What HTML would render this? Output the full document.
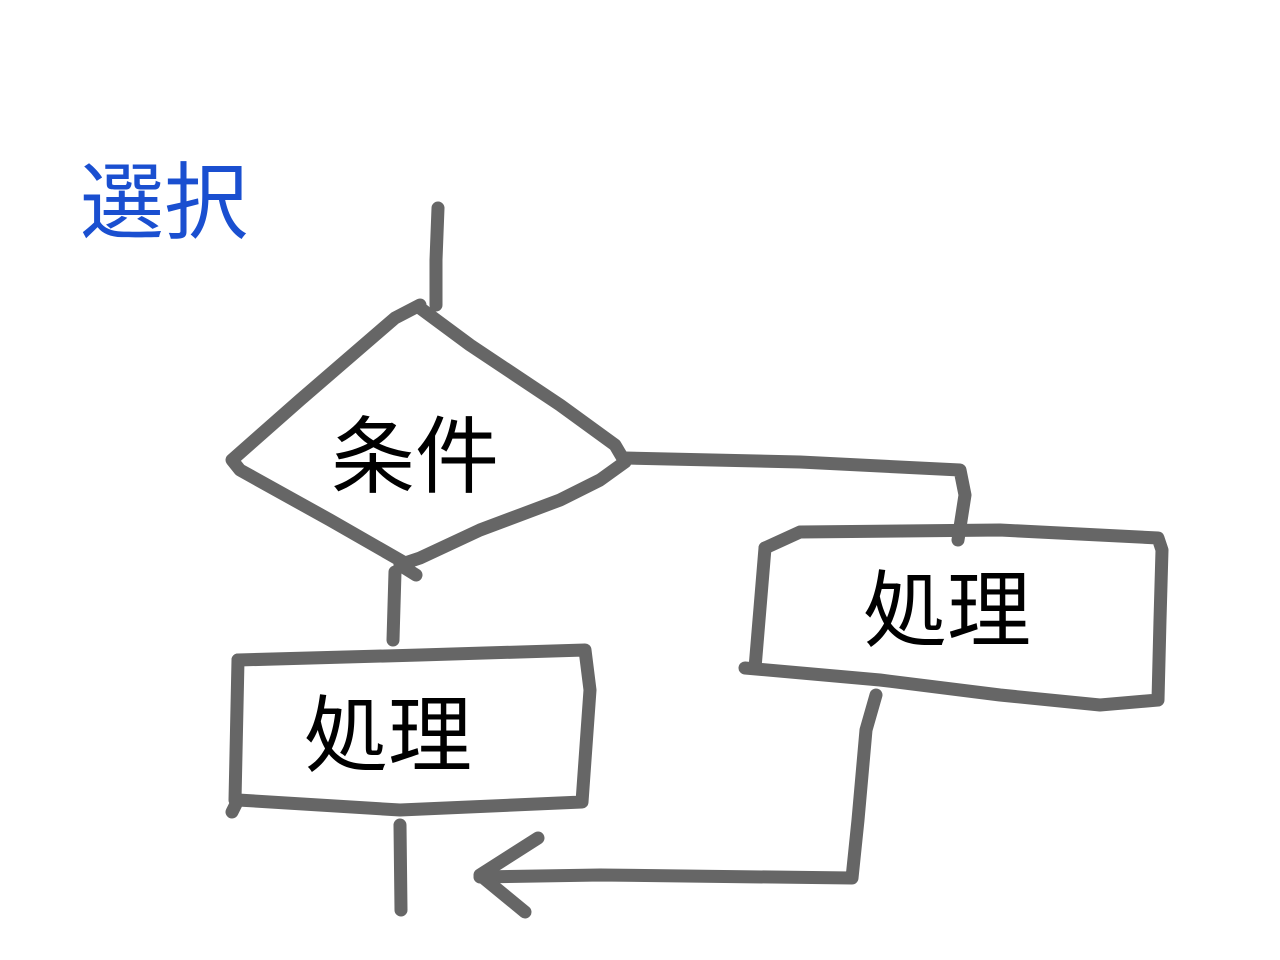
<!DOCTYPE html>
<html><head><meta charset="utf-8"><style>
html,body{margin:0;padding:0;background:#fff;}
body{width:1280px;height:960px;position:relative;overflow:hidden;}
.t{position:absolute;font-family:"Liberation Sans","Noto Sans CJK JP",sans-serif;line-height:1;white-space:nowrap;}
</style></head><body>
<svg width="1280" height="960" style="position:absolute;left:0;top:0" fill="none" stroke="#666" stroke-width="13" stroke-linecap="round" stroke-linejoin="round">
<polyline points="438,208 436,260 436,305"/>
<polyline points="420,308 470,345 560,405 615,445 625,462 600,480 560,500 480,530 420,558 405,563 330,520 240,470 232,460 300,400 395,318 420,305"/>
<polyline points="400,565 416,575"/>
<polyline points="395,572 393,640"/>
<polyline points="238,660 420,655 585,650 590,690 582,802 400,810 238,800 232,812"/>
<polyline points="238,660 235,800"/>
<polyline points="400,825 401,910"/>
<polyline points="625,458 800,462 960,470 965,495 958,540"/>
<polyline points="765,548 800,532 1000,530 1158,538 1162,550 1160,620 1158,700 1100,705 1000,695 880,680 745,668"/>
<polyline points="765,548 755,668"/>
<polyline points="876,695 866,730 858,820 852,878 600,875 480,877"/>
<polyline points="538,838 480,875 525,912"/>
</svg>
<div class="t" style="left:80px;top:161px;font-size:84px;color:#1a4fd0;">選択</div>
<div class="t" style="left:331px;top:415px;font-size:84px;color:#000;">条件</div>
<div class="t" style="left:304px;top:694px;font-size:84px;color:#000;">処理</div>
<div class="t" style="left:863px;top:569px;font-size:84px;color:#000;">処理</div>
</body></html>
